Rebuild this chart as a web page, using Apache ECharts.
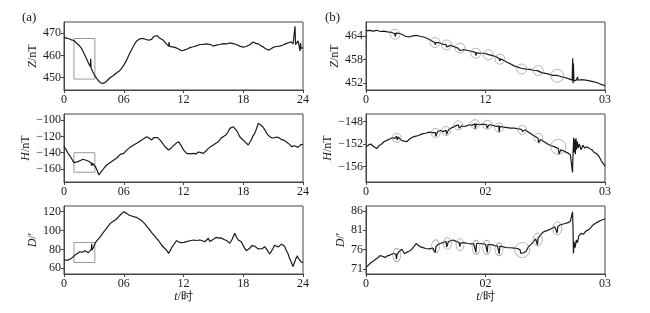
<!DOCTYPE html>
<html><head><meta charset="utf-8">
<script src="https://cdn.jsdelivr.net/npm/echarts@6/dist/echarts.min.js"></script>
<style>html,body{margin:0;padding:0;background:#fff}#c{width:650px;height:313px}</style>
</head><body><div id="c"></div>
<script>
// ---------- left column (a): whole day, hours ----------
const aZt = [0,0.25,0.5,0.75,1.0,1.25,1.5,1.75,2.0,2.25,2.5,2.65,2.68,2.72,2.9,3.15,3.4,3.65,3.9,4.15,4.4,4.65,4.9,5.3,5.55,5.8,6.05,6.3,6.55,6.8,7.05,7.3,7.55,7.8,8.1,8.5,8.8,9.0,9.15,9.35,9.6,9.98,10.2,10.5,10.55,10.6,10.8,11.15,11.5,11.8,12.05,12.3,12.65,12.98,13.3,13.65,14.0,14.3,14.5,14.7,15.0,15.3,15.65,16.0,16.3,16.65,17.0,17.3,17.65,17.98,18.3,18.65,19.0,19.25,19.5,19.75,20.0,20.25,20.5,20.75,21.0,21.3,21.65,22.0,22.3,22.55,22.8,23.0,23.15,23.2,23.25,23.3,23.5,23.6,23.7,23.75,23.8,23.9,24.0];
const aZv = [468.1,467.8,467.5,467.0,466.7,465.6,464.6,463.2,461.0,458.6,456.2,455.0,458.5,454.4,452.6,450.5,449.0,447.8,447.4,447.9,449.0,450.1,450.8,452.2,453.0,454.3,456.0,458.0,460.5,462.7,464.8,466.5,467.3,467.6,467.4,466.8,467.2,468.5,469.3,468.9,467.8,466.8,465.5,464.2,466.0,464.1,463.8,463.6,462.9,462.1,462.4,462.8,463.5,463.9,464.3,464.9,465.0,465.2,465.8,464.9,464.2,464.6,464.9,465.3,465.2,465.6,465.3,464.9,464.2,463.7,464.0,464.8,466.0,465.4,465.2,464.4,463.8,463.0,462.4,462.9,463.6,464.0,464.2,464.7,465.3,465.7,466.1,465.2,465.5,473.1,464.8,465.0,466.5,464.5,462.0,465.5,463.2,464.0,463.5];

const aHt = [0,0.2,0.4,0.6,0.8,1.0,1.2,1.4,1.65,1.9,2.1,2.3,2.5,2.7,2.78,2.85,3.0,3.15,3.3,3.5,3.65,3.8,4.05,4.3,4.65,5.0,5.3,5.65,6.0,6.25,6.5,6.75,7.0,7.3,7.65,8.0,8.3,8.55,8.8,9.0,9.15,9.4,9.65,9.9,10.15,10.5,10.75,11.0,11.25,11.5,11.75,12.0,12.3,12.65,13.0,13.25,13.5,13.75,14.0,14.25,14.5,14.75,15.0,15.25,15.5,15.8,16.05,16.3,16.5,16.65,16.85,17.0,17.15,17.3,17.5,17.65,17.9,18.15,18.35,18.5,18.65,18.8,19.0,19.15,19.35,19.5,19.65,19.8,20.0,20.15,20.35,20.5,20.8,21.05,21.3,21.55,21.8,22.05,22.3,22.5,22.65,22.85,23.0,23.15,23.3,23.5,23.65,23.8,24.0];
const aHv = [-132.7,-136,-140.8,-144,-148,-152.2,-151.8,-151,-149.5,-148,-149,-149.6,-150.5,-152,-156,-153,-154.5,-157,-161,-167.3,-165,-162.4,-158.5,-155,-152,-149,-146.5,-142,-140.8,-137.5,-134.7,-132.5,-130.6,-128.5,-125.7,-123,-120.4,-122,-124.5,-121.5,-119.2,-121.5,-124.5,-128.5,-132.7,-136.7,-134.5,-131.4,-128.5,-126.5,-131,-136.5,-140.8,-141.5,-140.8,-141.5,-139.2,-140,-140.8,-138,-134.7,-132.5,-130.6,-128.5,-126.5,-121.7,-120,-117.6,-114,-110.2,-109,-108.2,-110,-112.2,-116.5,-120.4,-123.5,-126.5,-128.5,-130.6,-128.5,-124.5,-119,-116.3,-110,-104,-102,-106.3,-109,-111.6,-116,-118.6,-121.5,-122,-120.8,-121.5,-123.6,-124.5,-126.5,-128.5,-129.8,-132.5,-134.7,-131.5,-132.7,-133.5,-134.7,-129.8,-130.5];

const aDt = [0,0.2,0.4,0.6,0.75,0.9,1.1,1.3,1.6,1.85,2.1,2.3,2.45,2.6,2.75,2.78,2.82,3.0,3.15,3.4,3.65,3.9,4.15,4.4,4.65,4.9,5.15,5.4,5.65,5.85,6.0,6.15,6.3,6.55,6.8,7.05,7.3,7.55,7.8,8.05,8.3,8.55,8.8,9.05,9.3,9.55,9.8,10.05,10.3,10.5,10.65,10.8,11.05,11.3,11.55,11.8,12.05,12.3,12.65,13.0,13.3,13.65,13.9,14.15,14.35,14.5,14.65,14.8,15.05,15.3,15.55,15.8,16.05,16.3,16.5,16.65,16.9,17.15,17.3,17.5,17.65,17.8,18.05,18.3,18.5,18.65,18.85,19.0,19.15,19.3,19.5,19.65,19.9,20.15,20.4,20.65,20.85,21.0,21.15,21.3,21.5,21.65,21.85,22.0,22.15,22.3,22.5,22.65,22.85,23.0,23.15,23.3,23.45,23.5,23.65,23.8,24.0];
const aDv = [68.8,69.2,68.6,70.2,70.6,72.5,74.0,75.5,77.6,77.0,78.6,77.2,76.5,77.5,80.5,86,79,83.5,87.2,90.5,93.5,97.2,100.6,104.2,107.6,109.5,111.2,113.6,116.5,118.5,120.0,118.8,118.2,116.2,115.4,114.5,113.9,112.3,110.5,107.8,104.8,101.5,97.8,94.8,91.8,88.5,84.7,81.8,79.4,75.9,78.5,81.6,85.5,89.3,87.8,87.2,87.5,88.2,89.2,90.0,89.5,90.0,89.2,88.2,89.5,91.8,88.5,89.6,91.0,92.8,92.0,92.2,90.5,89.6,88.0,86.5,91.0,97.1,93.5,90.0,91.5,88.2,83.0,78.7,79.2,81.2,84.0,85.8,83.5,82.2,80.5,79.4,80.8,82.9,79.5,75.2,78.5,81.2,84.5,84.7,82.5,83.0,85.6,85.8,83.5,79.4,75.5,70.6,66.0,61.8,66.5,70.6,73.2,71.0,73.0,67.0,66.0];

// zoom boxes in (a): [t0, v0, t1, v1]
const boxZ = [1.0, 467.6, 3.1, 449.4];
const boxH = [1.0, -140.0, 3.1, -164.0];
const boxD = [1.0, 87.4, 3.1, 66.2];

// ---------- right column (b): 01:00-03:00, hours ----------
const bZt = [1.00,1.03,1.06,1.09,1.12,1.15,1.18,1.21,1.24,1.245,1.25,1.28,1.30,1.33,1.36,1.39,1.42,1.45,1.48,1.51,1.54,1.575,1.58,1.585,1.61,1.64,1.67,1.675,1.68,1.71,1.74,1.77,1.785,1.79,1.82,1.85,1.88,1.915,1.92,1.925,1.96,1.99,2.02,2.025,2.03,2.06,2.09,2.115,2.12,2.125,2.15,2.18,2.21,2.24,2.27,2.30,2.305,2.31,2.34,2.37,2.40,2.435,2.44,2.445,2.47,2.50,2.53,2.56,2.59,2.60,2.61,2.64,2.67,2.70,2.725,2.73,2.733,2.736,2.74,2.76,2.77,2.775,2.80,2.81,2.815,2.84,2.87,2.90,2.93,2.96,2.99,3.00];
const bZv = [465.3,465.4,465.2,465.4,465.1,465.2,465.0,464.9,464.6,463.8,464.7,464.6,464.4,463.9,463.7,464.0,464.1,463.9,463.7,463.4,462.9,462.3,461.7,462.3,462.3,461.9,461.8,461.2,461.7,461.6,461.2,460.9,460.3,460.8,460.5,460.3,460.1,459.8,459.0,459.7,459.6,459.6,459.3,458.8,459.3,459.0,458.7,458.2,457.6,458.2,457.8,457.3,456.9,456.4,456.1,455.8,455.3,455.8,455.6,455.5,455.3,455.2,454.7,455.1,454.7,454.5,454.3,454.0,454.0,453.5,453.9,453.6,453.4,453.1,452.8,458.3,452.0,457.0,452.6,452.8,453.6,452.8,452.9,453.4,452.9,452.8,452.6,452.4,452.2,451.8,451.5,451.3];

const bHt = [1.00,1.02,1.04,1.06,1.09,1.11,1.13,1.15,1.17,1.19,1.22,1.24,1.257,1.26,1.27,1.30,1.32,1.34,1.36,1.38,1.40,1.42,1.44,1.47,1.50,1.53,1.56,1.58,1.585,1.60,1.62,1.645,1.67,1.675,1.69,1.72,1.75,1.773,1.78,1.80,1.82,1.84,1.87,1.89,1.912,1.915,1.92,1.95,1.98,2.01,2.013,2.03,2.06,2.09,2.11,2.115,2.12,2.15,2.18,2.21,2.24,2.27,2.30,2.31,2.33,2.36,2.39,2.42,2.44,2.445,2.46,2.49,2.52,2.55,2.58,2.61,2.615,2.63,2.66,2.69,2.71,2.725,2.728,2.732,2.738,2.742,2.747,2.752,2.757,2.762,2.768,2.775,2.785,2.80,2.815,2.83,2.85,2.87,2.89,2.91,2.93,2.95,2.97,2.99,3.00];
const bHv = [-152.5,-152.2,-152.0,-152.4,-152.8,-152.3,-152.0,-151.6,-151.4,-151.2,-150.9,-151.0,-150.6,-151.3,-150.8,-151.4,-151.5,-151.6,-151.2,-150.9,-150.7,-150.6,-150.5,-150.2,-150.1,-149.9,-150.0,-150.0,-150.6,-149.8,-149.6,-149.8,-149.6,-150.3,-149.5,-149.1,-148.8,-148.6,-149.2,-148.8,-148.9,-148.8,-148.6,-148.7,-148.4,-149.4,-148.5,-148.6,-148.5,-148.6,-149.2,-148.6,-148.7,-148.9,-148.8,-149.9,-148.9,-149.0,-149.1,-149.2,-149.2,-149.3,-149.4,-149.8,-149.5,-149.9,-150.3,-150.7,-151.0,-151.8,-151.2,-151.6,-152.0,-152.3,-152.5,-152.8,-153.8,-153.0,-153.3,-153.6,-153.9,-154.0,-157.0,-154.0,-150.9,-153.5,-151.2,-153.8,-151.0,-153.0,-151.5,-152.7,-152.0,-153.0,-152.2,-152.7,-152.5,-152.8,-153.0,-153.5,-153.7,-154.2,-155.0,-155.6,-155.9];

const bDt = [1.00,1.02,1.04,1.06,1.08,1.10,1.12,1.13,1.16,1.18,1.20,1.23,1.25,1.255,1.26,1.28,1.30,1.32,1.34,1.36,1.38,1.40,1.42,1.43,1.45,1.47,1.50,1.53,1.56,1.575,1.58,1.585,1.60,1.62,1.65,1.67,1.675,1.69,1.71,1.73,1.75,1.78,1.785,1.79,1.82,1.85,1.88,1.90,1.915,1.92,1.925,1.95,1.98,2.00,2.01,2.015,2.02,2.05,2.08,2.10,2.113,2.115,2.12,2.15,2.18,2.21,2.24,2.27,2.29,2.295,2.32,2.34,2.36,2.38,2.40,2.42,2.43,2.435,2.44,2.46,2.48,2.50,2.52,2.55,2.58,2.595,2.60,2.605,2.63,2.66,2.69,2.71,2.725,2.728,2.732,2.736,2.742,2.75,2.76,2.77,2.78,2.79,2.80,2.82,2.84,2.87,2.90,2.93,2.96,3.00];
const bDv = [71.4,72.0,72.6,73.0,73.5,73.9,74.5,74.2,74.0,74.4,74.6,75.0,74.8,73.6,74.8,75.6,76.1,75.0,75.3,75.6,76.0,76.7,77.6,77.8,76.8,76.6,76.3,76.2,76.4,76.7,75.2,76.7,77.3,77.6,77.9,78.1,76.7,78.1,78.3,78.5,78.2,77.8,76.8,77.7,77.8,77.6,77.5,77.6,77.7,75.3,77.6,77.6,77.5,77.4,77.5,75.3,77.3,77.3,77.0,77.0,76.9,74.9,76.9,76.7,76.5,76.5,76.4,76.3,75.9,75.0,75.2,75.6,76.8,77.3,78.0,78.8,79.2,77.2,79.0,79.8,80.5,80.8,81.0,81.4,81.9,82.0,80.3,82.0,82.5,82.7,83.0,83.3,83.4,85.8,82.0,75.0,78.0,76.5,78.5,77.8,79.5,79.0,80.2,80.0,80.8,81.3,82.4,83.0,83.5,84.0];

// circles marked in (b): centre t, centre value, size
const cZt = [1.243,1.577,1.675,1.787,1.918,2.024,2.121,2.303,2.442,2.601];
const cZv = [464.4,462.3,461.7,460.9,459.6,459.2,458.1,455.6,455.2,453.9];
const cZs = [[10,10],[10,10],[10,10],[10,10],[10,10],[10,10],[10,10],[10,10],[10,10],[13,13]];
const cHt = [1.257,1.583,1.669,1.773,1.912,2.015,2.113,2.308,2.442,2.609];
const cHv = [-150.9,-150.05,-149.7,-148.7,-148.5,-148.6,-149.1,-149.5,-150.9,-152.5];
const cHs = [[9,9],[9,9],[9,9],[9,9],[9,9],[9,9],[9,9],[9,9],[9,9],[15,15]];
const cDt = [1.257,1.583,1.681,1.787,1.921,2.010,2.113,2.308,2.437,2.601];
const cDv = [74.6,76.9,77.6,77.3,76.6,76.6,76.1,75.9,78.6,81.5];
const cDs = [[8,13],[8,13],[8,12],[8,12],[8,14],[8,14],[8,13],[15,15],[9,13],[9,13]];

// axis ticks / labels
const aXticks = {0:'0',6:'06',12:'12',18:'18',24:'24'};
const bXticksTop = {1:'0',2:'12',3:'03'};
const bXticks = {1:'0',2:'02',3:'03'};
const aZy = [450,460,470], aHy = [-160,-140,-120,-100], aDy = [60,80,100,120];
const bZy = [452,458,464], bHy = [-156,-152,-148], bDy = [71,76,81,86];
const yRange = {aZ:[444.5,475], aH:[-176,-92.5], aD:[54,126], bZ:[450.3,467.5], bH:[-158.7,-146.7], bD:[69.7,87.3]};

// ---------- build ----------
const FONT = '"Liberation Serif","DejaVu Serif",serif';
const INK = '#1a1a1a';
const zip = (t, v) => t.map((x, i) => [x, v[i]]);
const minus = v => String(v).replace('-', '\u2212');

const grids = [], xAxes = [], yAxes = [], series = [];
const panels = [
  {left:64, top:22, xr:[0,24], xt:aXticks, yr:yRange.aZ, yt:aZy, name:'{i|Z}/nT', gap:24, data:zip(aZt,aZv), box:boxZ},
  {left:64, top:114, xr:[0,24], xt:aXticks, yr:yRange.aH, yt:aHy, name:'{i|H}/nT', gap:29, data:zip(aHt,aHv), box:boxH},
  {left:64, top:206, xr:[0,24], xt:aXticks, yr:yRange.aD, yt:aDy, name:'{i|D}/\u2032', gap:25, data:zip(aDt,aDv), box:boxD, xname:true},
  {left:366, top:22, xr:[1,3], xt:bXticksTop, yr:yRange.bZ, yt:bZy, name:'{i|Z}/nT', gap:24, data:zip(bZt,bZv), circ:[cZt,cZv,cZs]},
  {left:366, top:114, xr:[1,3], xt:bXticks, yr:yRange.bH, yt:bHy, name:'{i|H}/nT', gap:29, data:zip(bHt,bHv), circ:[cHt,cHv,cHs]},
  {left:366, top:206, xr:[1,3], xt:bXticks, yr:yRange.bD, yt:bDy, name:'{i|D}/\u2032', gap:18, data:zip(bDt,bDv), circ:[cDt,cDv,cDs], xname:true}
];
panels.forEach((p, i) => {
  grids.push({left:p.left, top:p.top, width:239, height:68, show:true, borderColor:'#444', borderWidth:1, backgroundColor:'transparent'});
  const xv = Object.keys(p.xt).map(Number);
  xAxes.push({type:'value', gridIndex:i, min:p.xr[0], max:p.xr[1],
    axisLine:{show:true, lineStyle:{color:'#444'}}, splitLine:{show:false},
    axisTick:{show:true, length:3, lineStyle:{color:'#444'}, customValues:xv},
    axisLabel:{customValues:xv, formatter:v => p.xt[Math.round(v)] ?? '', color:INK, fontFamily:FONT, fontSize:12, margin:4},
    name: p.xname ? '{i|t}/时' : '', nameLocation:'middle', nameGap:17,
    nameTextStyle:{color:INK, fontFamily:FONT, fontSize:12, rich:{i:{fontStyle:'italic', fontFamily:FONT, fontSize:12, color:INK}}}
  });
  yAxes.push({type:'value', gridIndex:i, min:p.yr[0], max:p.yr[1],
    axisLine:{show:true, lineStyle:{color:'#444'}}, splitLine:{show:false},
    axisTick:{show:true, length:3, lineStyle:{color:'#444'}, customValues:p.yt},
    axisLabel:{customValues:p.yt, formatter:minus, color:INK, fontFamily:FONT, fontSize:12, margin:3},
    name:p.name, nameLocation:'middle', nameGap:p.gap, nameRotate:90,
    nameTextStyle:{color:INK, fontFamily:FONT, fontSize:12, rich:{i:{fontStyle:'italic', fontFamily:FONT, fontSize:12, color:INK}}}
  });
  const s = {type:'line', xAxisIndex:i, yAxisIndex:i, data:p.data, showSymbol:false, symbol:'none',
    lineStyle:{color:INK, width:1.2}, animation:false, silent:true, z:3};
  if (p.box) {
    s.markArea = {silent:true, itemStyle:{color:'rgba(0,0,0,0)', borderColor:'#9a9a9a', borderWidth:1},
      data:[[{coord:[p.box[0], p.box[1]]}, {coord:[p.box[2], p.box[3]]}]]};
  }
  series.push(s);
  if (p.circ) {
    series.push({type:'scatter', xAxisIndex:i, yAxisIndex:i, animation:false, silent:true, z:4,
      data:p.circ[0].map((t, k) => ({value:[t, p.circ[1][k]], symbolSize:p.circ[2][k]})),
      symbol:'circle', itemStyle:{color:'rgba(0,0,0,0)', borderColor:'#8a8a8a', borderWidth:0.8}});
  }
});

const chart = echarts.init(document.getElementById('c'), null, {renderer:'canvas'});
chart.setOption({
  animation:false, backgroundColor:'#fff',
  grid:grids, xAxis:xAxes, yAxis:yAxes, series:series,
  graphic:[
    {type:'text', left:22, top:11, style:{text:'(a)', font:'13px ' + FONT, fill:INK}},
    {type:'text', left:325, top:11, style:{text:'(b)', font:'13px ' + FONT, fill:INK}}
  ]
});
</script></body></html>
